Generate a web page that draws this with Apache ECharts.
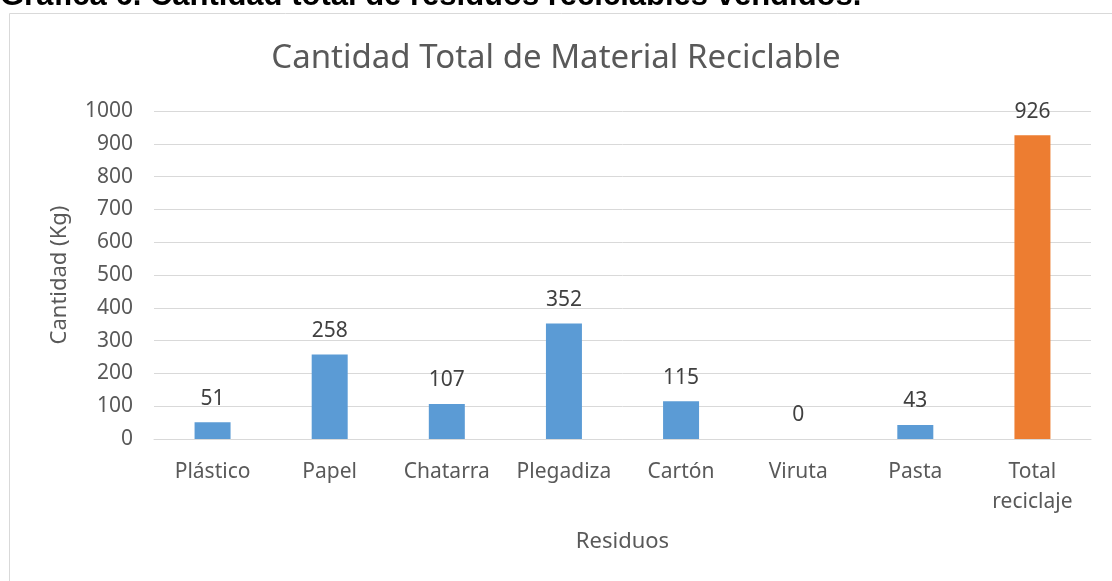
<!DOCTYPE html>
<html><head><meta charset="utf-8">
<script src="https://cdn.jsdelivr.net/npm/echarts@6/dist/echarts.min.js"></script>
<style>html,body{margin:0;padding:0;background:#fff;}#c{width:1112px;height:581px;}</style>
</head><body><div id="c"></div>
<script>
const categories = ['Plástico','Papel','Chatarra','Plegadiza','Cartón','Viruta','Pasta','Total\nreciclaje'];
const values = [51, 258, 107, 352, 115, 0, 43, 926];
const barColors = ['#5b9bd5','#5b9bd5','#5b9bd5','#5b9bd5','#5b9bd5','#5b9bd5','#5b9bd5','#ed7d31'];
const yTicks = {min: 0, max: 1000, interval: 100};
const FONT = '"Noto Sans", "Open Sans", sans-serif';
const chart = echarts.init(document.getElementById('c'), null, {renderer:'canvas'});
chart.setOption({
  animation: false,
  textStyle: {fontFamily: FONT},
  graphic: [
    {type:'rect', shape:{x:9.5, y:13.5, width:1200, height:700}, style:{fill:'none', stroke:'#d9d9d9', lineWidth:1}, z:-1},
    {type:'text', left:0, top:-19, style:{text:'Gráfica 6. Cantidad total de residuos reciclables vendidos.', font:'bold 31px "Liberation Sans", Arial, sans-serif', fill:'#000'}}
  ],
  title: {text:'Cantidad Total de Material Reciclable', left:'center', top:37, textStyle:{fontFamily:FONT, fontSize:33, fontWeight:'normal', color:'#595959'}},
  grid: {left:154, right:21, top:111, bottom:142},
  xAxis: {type:'category', data:categories, name:'Residuos', nameLocation:'middle', nameGap:92,
    nameTextStyle:{fontFamily:FONT, fontSize:22, color:'#595959'},
    axisLine:{lineStyle:{color:'#d9d9d9'}}, axisTick:{show:false},
    axisLabel:{fontFamily:FONT, fontSize:21, color:'#595959', margin:18, lineHeight:30, interval:0}},
  yAxis: {type:'value', min:yTicks.min, max:yTicks.max, interval:yTicks.interval, name:'Cantidad (Kg)', nameLocation:'middle', nameGap:83,
    nameTextStyle:{fontFamily:FONT, fontSize:22, color:'#595959'},
    axisLine:{show:false}, axisTick:{show:false},
    splitLine:{lineStyle:{color:'#d9d9d9'}},
    axisLabel:{fontFamily:FONT, fontSize:21, color:'#595959', margin:21, formatter: v => String(v)}},
  series: [{type:'bar', data: values.map((v,i)=>({value:v, itemStyle:{color:barColors[i]}})), barWidth:36,
    label:{show:true, position:'top', distance:13, fontFamily:FONT, fontSize:21, color:'#404040'}}]
});
</script></body></html>
